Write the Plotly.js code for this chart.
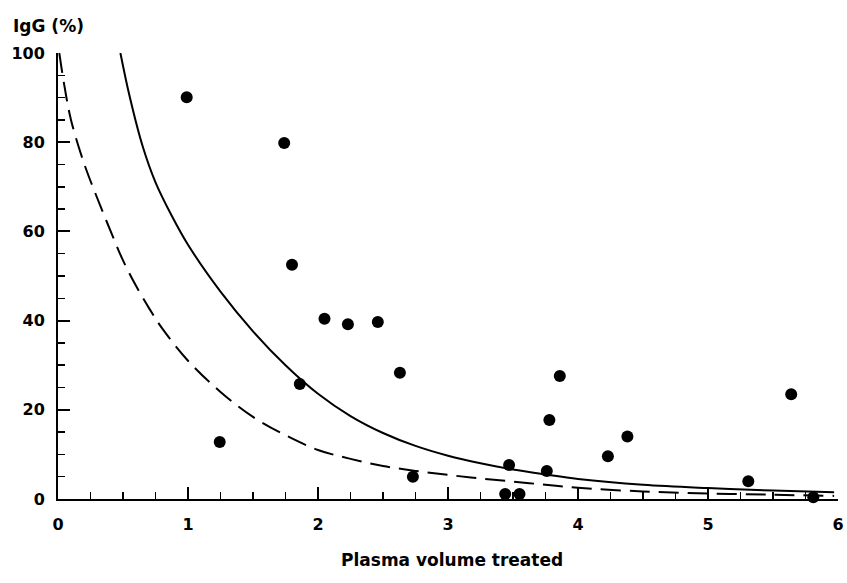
<!DOCTYPE html>
<html><head><meta charset="utf-8">
<script src="https://cdn.plot.ly/plotly-3.0.1.min.js"></script>
<style>html,body{margin:0;padding:0;background:#fff}#chart{width:847px;height:583px}</style>
</head><body><div id="chart"></div>
<script>
// Observed patients: plasma volumes treated vs residual IgG (%)
const pointX = [0.99, 1.244, 1.74, 1.80, 1.86, 2.05, 2.23, 2.46, 2.63, 2.73, 3.44, 3.55, 3.47, 3.76, 3.78, 3.86, 4.23, 4.38, 5.31, 5.64, 5.81];
const pointY = [90.1, 12.8, 79.8, 52.5, 25.8, 40.4, 39.2, 39.7, 28.3, 5.0, 1.1, 1.1, 7.6, 6.3, 17.7, 27.6, 9.6, 14.0, 4.0, 23.5, 0.4];

// Solid curve
const solidX = [0.48, 0.55, 0.65, 0.75, 0.875, 1.0, 1.25, 1.5, 1.75, 2.0, 2.25, 2.5, 2.75, 3.0, 3.25, 3.5, 3.75, 4.0, 4.5, 5.0, 5.5, 5.97];
const solidY = [100, 90.4, 79.2, 71.0, 63.5, 57.0, 46.5, 37.6, 30.0, 23.6, 18.6, 14.8, 11.9, 9.7, 8.0, 6.6, 5.5, 4.5, 3.2, 2.45, 1.9, 1.5];

// Dashed curve
const dashX = [0.01, 0.05, 0.1, 0.2, 0.3, 0.4, 0.5, 0.6, 0.7, 0.8, 1.0, 1.25, 1.5, 1.75, 2.0, 2.25, 2.5, 2.75, 3.0, 3.25, 3.5, 3.75, 4.0, 4.5, 5.0, 5.5, 5.97];
const dashY = [100, 92.5, 85.0, 75.3, 67.6, 60.4, 53.5, 47.8, 42.8, 38.3, 31.0, 24.0, 18.4, 14.3, 11.0, 9.0, 7.4, 6.3, 5.4, 4.6, 3.9, 3.2, 2.5, 1.7, 1.25, 0.95, 0.7];

const xTickVals = [0, 1, 2, 3, 4, 5, 6];
const xTickText = ['0', '1', '2', '3', '4', '5', '6'];
const yTickVals = [0, 20, 40, 60, 80, 100];
const yTickText = ['0', '20', '40', '60', '80', '100'];

const yTitle = 'IgG (%)';
const xTitle = 'Plasma volume treated';

const F = {family: 'DejaVu Sans, Arial, sans-serif', color: '#000', weight: 'bold'};

const traces = [
  {x: dashX, y: dashY, type: 'scatter', mode: 'lines', cliponaxis: false,
   line: {color: '#000', width: 2, dash: '20px,9px', shape: 'spline', smoothing: 1}, hoverinfo: 'skip'},
  {x: solidX, y: solidY, type: 'scatter', mode: 'lines', cliponaxis: false,
   line: {color: '#000', width: 2, shape: 'spline', smoothing: 1}, hoverinfo: 'skip'},
  {x: pointX, y: pointY, type: 'scatter', mode: 'markers', cliponaxis: false,
   marker: {color: '#000', size: 12, line: {width: 0}}}
];

const layout = {
  width: 847, height: 583,
  margin: {l: 58, r: 9, t: 53, b: 84},
  paper_bgcolor: '#fff', plot_bgcolor: '#fff',
  showlegend: false,
  font: Object.assign({size: 16}, F),
  xaxis: {
    range: [0, 6], showgrid: false, zeroline: false,
    showline: true, linecolor: '#000', linewidth: 2,
    tickmode: 'array', tickvals: xTickVals, ticktext: xTickText,
    ticks: 'inside', ticklen: 12, tickwidth: 2, tickcolor: '#000',
    ticklabelstandoff: 10,
    tickfont: Object.assign({size: 16}, F),
    minor: {dtick: 0.25, tick0: 0, ticks: 'inside', ticklen: 7, tickwidth: 1.5, tickcolor: '#000', showgrid: false}
  },
  yaxis: {
    range: [0, 100], showgrid: false, zeroline: false,
    showline: true, linecolor: '#000', linewidth: 2,
    tickmode: 'array', tickvals: yTickVals, ticktext: yTickText,
    ticks: 'inside', ticklen: 12, tickwidth: 2, tickcolor: '#000',
    ticklabelstandoff: 8,
    tickfont: Object.assign({size: 16}, F),
    minor: {dtick: 5, tick0: 0, ticks: 'inside', ticklen: 7, tickwidth: 1.5, tickcolor: '#000', showgrid: false}
  },
  annotations: [
    {text: yTitle, xref: 'paper', yref: 'paper', x: -0.0597, y: 1.061,
     xanchor: 'left', yanchor: 'middle', showarrow: false, font: Object.assign({size: 17}, F)},
    {text: xTitle, xref: 'paper', yref: 'paper', x: 0.505, y: -0.137,
     xanchor: 'center', yanchor: 'middle', showarrow: false, font: Object.assign({size: 17}, F)}
  ]
};

Plotly.newPlot('chart', traces, layout, {displayModeBar: false, staticPlot: true});
</script>
</body></html>
